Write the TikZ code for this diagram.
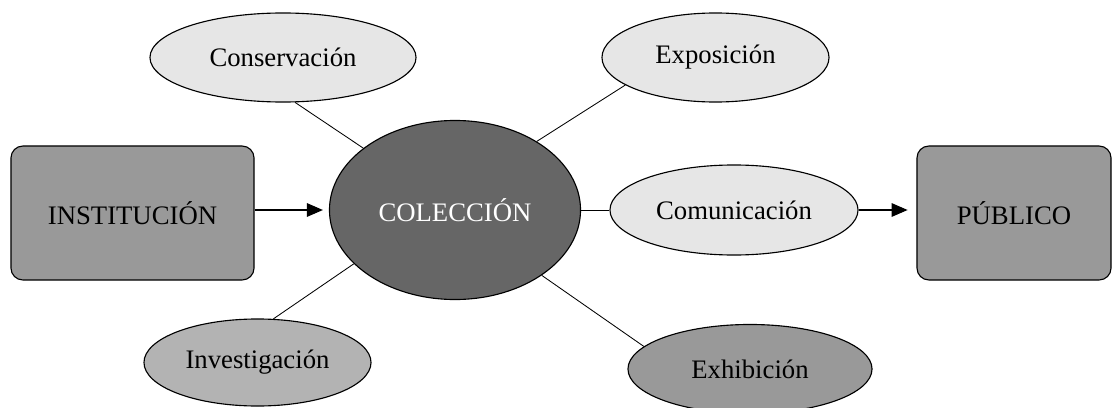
\documentclass[tikz,border=0pt]{standalone}
\usepackage{fontspec}
\setmainfont{Liberation Serif}
\usetikzlibrary{shapes.geometric,arrows.meta}
\definecolor{paleGray}{HTML}{E6E6E6}
\definecolor{midGray}{HTML}{B3B3B3}
\definecolor{boxGray}{HTML}{999999}
\definecolor{coreGray}{HTML}{666666}
\begin{document}
\begin{tikzpicture}[x=0.025cm, y=-0.025cm,
    every node/.style = {font=\fontsize{19}{22}\selectfont, inner sep=0pt},
    oval/.style = {draw, ellipse, line width=0.8pt},
    box/.style = {draw, rectangle, rounded corners=0.3cm, fill=boxGray, line width=0.8pt,
                  minimum width=6.075cm, minimum height=3.35cm},
    arr/.style = {-{Triangle[length=0.4cm, width=0.34cm]}, line width=0.8pt}]
    \useasboundingbox (0,0) rectangle (1114,408);
    \node[box] (inst) at (132.5,213) {INSTITUCIÓN};
    \node[box, minimum width=4.85cm] (pub) at (1014,213) {PÚBLICO};
    \node[oval, fill=coreGray, text=white, minimum width=6.275cm, minimum height=4.475cm] (col) at (455,210) {COLECCIÓN};
    \node[oval, fill=paleGray, minimum width=6.65cm, minimum height=2.225cm] (cons) at (283,57.5) {Conservación};
    \node[oval, fill=paleGray, minimum width=5.675cm, minimum height=2.225cm] (expo) at (715.5,57.5) {Exposición};
    \node[oval, fill=paleGray, minimum width=6.2cm, minimum height=2.25cm] (comu) at (734,210) {Comunicación};
    \node[oval, fill=midGray, minimum width=5.675cm, minimum height=2.175cm] (inv) at (257.5,362.5) {Investigación};
    \node[oval, fill=boxGray, minimum width=6.1cm, minimum height=2.225cm] (exhi) at (750,369) {Exhibición};

    \path [arr, shorten >=0.15cm] (inst.east |- col.west) edge (col.west);
    \path [arr, shorten >=0.22cm] (comu.east) edge (pub.west |- comu.east);
    \path [line width=0.6pt] (col.east) edge (comu.west);
    \path [line width=0.6pt] (col.146) edge (cons.-75);
    \path [line width=0.6pt] (col.40) edge (expo.-163);
    \path [line width=0.6pt] (col.-152) edge (inv.70);
    \path [line width=0.6pt] (col.-37) edge (exhi.168);
\end{tikzpicture}
\end{document}
